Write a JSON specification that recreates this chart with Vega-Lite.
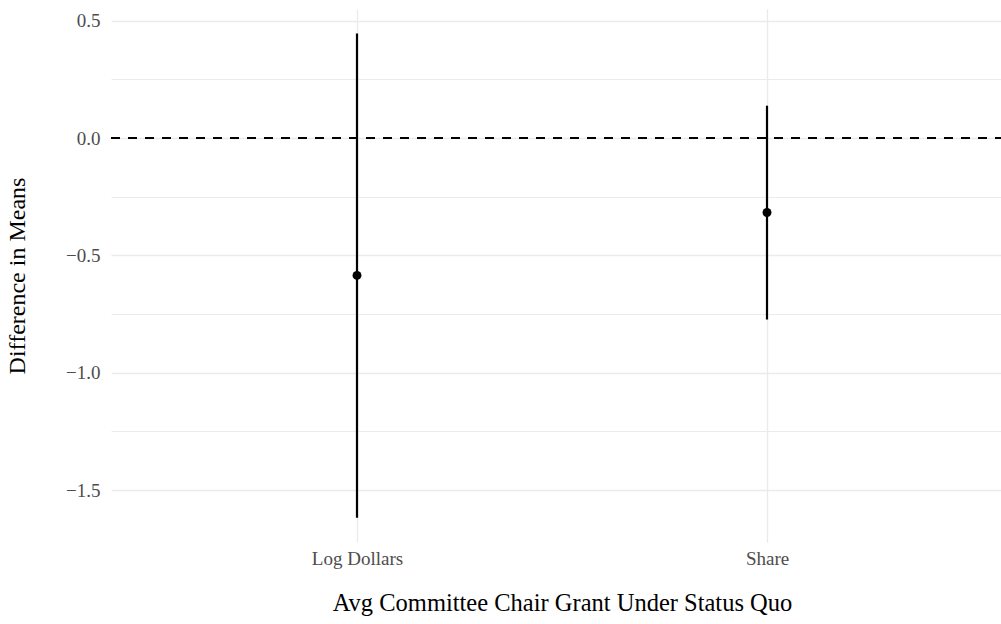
{
  "$schema": "https://vega.github.io/schema/vega-lite/v6.json",
  "autosize": {"type": "none"},
  "padding": {"left": 111, "top": 9, "right": 0, "bottom": 82},
  "width": 902,
  "height": 533,
  "background": "white",
  "config": {
    "view": {"stroke": null},
    "font": "Liberation Serif"
  },
  "data": {
    "values": [
      {"variable": "Log Dollars", "estimate": -0.585, "lower": -1.618, "upper": 0.446},
      {"variable": "Share", "estimate": -0.317, "lower": -0.773, "upper": 0.138}
    ]
  },
  "encoding": {
    "x": {
      "field": "variable",
      "type": "nominal",
      "scale": {"type": "point", "padding": 0.6},
      "axis": {
        "title": "Avg Committee Chair Grant Under Status Quo",
        "labelAngle": 0,
        "domain": false,
        "ticks": false,
        "grid": true,
        "gridColor": "#ebebeb",
        "gridWidth": 1.4,
        "labelColor": "#4d4d4d",
        "labelFontSize": 19,
        "labelFont": "Liberation Serif",
        "labelPadding": 7,
        "titleFont": "Liberation Serif",
        "titleFontSize": 24.5,
        "titleFontWeight": "normal",
        "titleColor": "black",
        "titlePadding": 23
      }
    }
  },
  "layer": [
    {
      "mark": {"type": "rule", "strokeWidth": 2.2, "color": "black"},
      "encoding": {
        "y": {
          "field": "lower",
          "type": "quantitative",
          "scale": {"domain": [-1.721, 0.55], "nice": false, "zero": false},
          "axis": {
            "title": "Difference in Means",
            "values": [-1.5, -1.25, -1, -0.75, -0.5, -0.25, 0, 0.25, 0.5],
            "labelExpr": "(abs(datum.value * 2 - round(datum.value * 2)) < 0.001) ? format(datum.value, '.1f') : ''",
            "domain": false,
            "ticks": false,
            "grid": true,
            "gridColor": "#ebebeb",
            "gridWidth": {"condition": {"test": "abs(datum.value * 2 - round(datum.value * 2)) < 0.001", "value": 1.4}, "value": 1.1},
            "labelColor": "#4d4d4d",
            "labelFontSize": 19,
            "labelFont": "Liberation Serif",
            "labelPadding": 11,
            "titleFont": "Liberation Serif",
            "titleFontSize": 24,
            "titleFontWeight": "normal",
            "titleColor": "black",
            "titlePadding": 36
          }
        },
        "y2": {"field": "upper"}
      }
    },
    {
      "mark": {"type": "rule", "strokeWidth": 2, "color": "black", "strokeDash": [9, 8]},
      "encoding": {
        "y": {"datum": 0, "type": "quantitative"},
        "x": {"value": 0},
        "x2": {"value": 1013}
      }
    },
    {
      "mark": {"type": "point", "filled": true, "shape": "circle", "size": 80, "color": "black", "opacity": 1},
      "encoding": {
        "y": {"field": "estimate", "type": "quantitative"}
      }
    }
  ]
}
